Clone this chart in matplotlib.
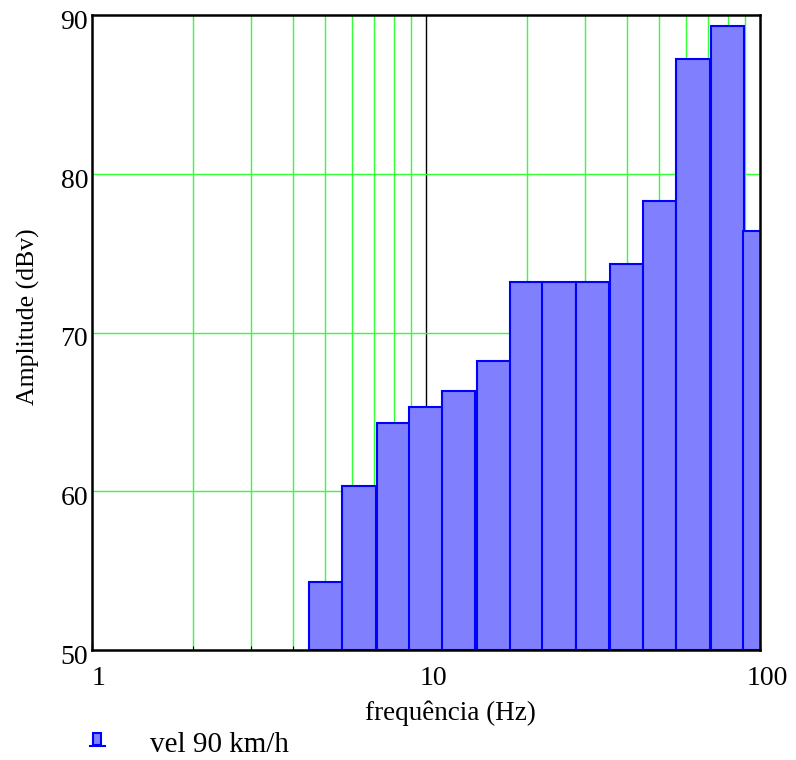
import matplotlib
matplotlib.use("Agg")
import matplotlib.pyplot as plt
import numpy as np
from matplotlib.patches import Rectangle
from matplotlib.lines import Line2D
from matplotlib.transforms import ScaledTranslation

# third-octave band centres (Hz) and levels
freqs = [5, 6.3, 8, 10, 12.5, 16, 20, 25, 31.5, 40, 50, 63, 80, 100]
levels = [54.3, 60.3, 64.3, 65.3, 66.3, 68.2, 73.2, 73.2, 73.2, 74.3, 78.3, 87.2, 89.3, 76.4]
xticks = [1, 10, 100]
yticks = [50, 60, 70, 80, 90]
series_name = "vel 90 km/h"

plt.rcParams['font.family'] = ['Liberation Serif', 'DejaVu Serif']
plt.rcParams['font.size'] = 18

fig = plt.figure(figsize=(7.96, 7.6), dpi=100)
ax = fig.add_axes([92/796, 1 - 650/760, (760 - 92)/796, (650 - 15)/760])

f = np.array(freqs, dtype=float)
lo = f * 10 ** -0.05
hi = f * 10 ** 0.05
ax.bar(lo, np.array(levels) - 50, width=hi - lo, bottom=50, align='edge',
       color='#8080ff', edgecolor='#0000ff', linewidth=1.5, zorder=3)

ax.set_xscale('log')
ax.set_xlim(1, 100)
ax.set_ylim(50, 90)

# grid: green lines, black line at the decade 10
for x in [2, 3, 4, 5, 6, 7, 8, 9, 20, 30, 40, 50, 60, 70, 80, 90]:
    ax.axvline(x, color='#33ff33', lw=1.0, zorder=1)
ax.axvline(10, color='black', lw=1.0, zorder=1)
for y in [60, 70, 80]:
    ax.axhline(y, color='#33ff33', lw=1.0, zorder=1)

# ticks: marks only, labels placed by hand below
ax.set_xticks(xticks)
ax.set_yticks(yticks)
ax.tick_params(axis='x', which='major', direction='in', length=5, width=1,
               labelbottom=False)
ax.tick_params(axis='x', which='minor', direction='in', length=3, width=0.8,
               labelbottom=False)
ax.tick_params(axis='y', which='both', length=0, labelleft=False)

xoff = ax.get_xaxis_transform() + ScaledTranslation(7/100, 0, fig.dpi_scale_trans)
for t in xticks:
    ax.text(t, -35/635, str(t), transform=xoff, ha='center', va='baseline',
            fontsize=20)
yoff = ax.get_yaxis_transform() + ScaledTranslation(-4/100, -14/100, fig.dpi_scale_trans)
for t in yticks:
    ax.text(0, t, str(t), transform=yoff, ha='right', va='baseline', fontsize=20)

for s in ax.spines.values():
    s.set_linewidth(1.8)
    s.set_zorder(5)

ax.set_xlabel("frequência (Hz)", fontsize=19.5)
ax.xaxis.label.set_va('baseline')
ax.xaxis.set_label_coords((450 - 92)/668, -70/635)
ax.set_ylabel("Amplitude (dBv)", fontsize=18.5)
ax.yaxis.label.set_va('center')
ax.yaxis.label.set_ha('center')
ax.yaxis.set_label_coords((28 - 92)/668, (650 - 316.5)/635)

# legend icon drawn by hand
fig.add_artist(Rectangle((93/796, 1 - 745/760), 8/796, 12/760,
                         facecolor='#8080ff', edgecolor='#0000ff', lw=1.5,
                         transform=fig.transFigure))
fig.add_artist(Line2D([90/796, 105/796], [1 - 746/760, 1 - 746/760],
                      color='#0000ff', lw=1.5, transform=fig.transFigure))
fig.text(150/796, 1 - 752/760, series_name, fontsize=21, va='baseline')

fig.savefig("out.png", dpi=100)
